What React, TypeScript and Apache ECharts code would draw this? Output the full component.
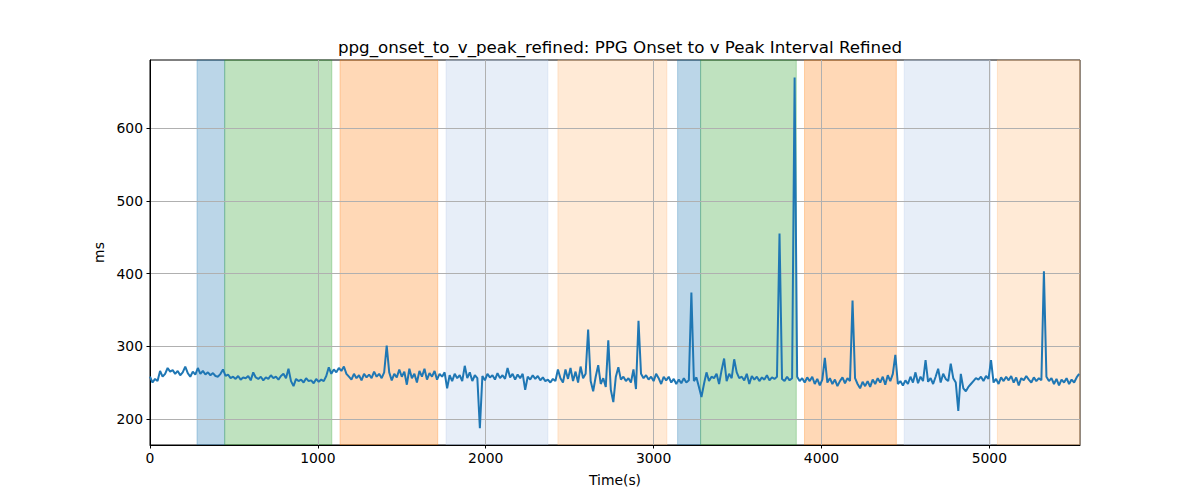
import React, { useEffect, useRef } from "react";
import * as echarts from "echarts";

const SAMPLE_STEP = 15; // seconds between samples

const intervalMs = [
  258, 250, 255, 252, 266, 258, 262, 270, 265, 267,
  262, 266, 260, 264, 272, 263, 258, 265, 261, 270,
  262, 266, 261, 264, 260, 263, 259, 258, 262, 268,
  259, 261, 256, 258, 255, 259, 254, 257, 256, 259,
  253, 264, 257, 255, 258, 253, 257, 255, 260, 256,
  258, 254, 259, 262, 256, 269, 252, 245, 255, 252,
  254, 250, 256, 252, 253, 249, 255, 251, 254, 252,
  259, 271, 262, 268, 264, 270, 266, 272, 262, 258,
  254, 262, 256, 260, 253, 262, 257, 261, 256, 265,
  258, 262, 256, 264, 301, 264, 253, 262, 257, 268,
  258, 265, 247, 269, 256, 262, 250, 266, 258, 269,
  254, 263, 258, 266, 254, 262, 258, 264, 242, 260,
  252, 262, 256, 260, 252, 273, 256, 264, 252, 260,
  256, 187, 259, 253, 262, 257, 260, 254, 263, 256,
  260, 255, 270, 257, 262, 254, 261, 256, 262, 240,
  258, 254, 260, 255, 259, 253, 257, 252, 254, 250,
  255, 252, 268, 256, 250, 268, 255, 270, 252, 265,
  250, 272, 256, 262, 323, 252, 238, 258, 274, 248,
  256, 244, 308, 240, 223, 258, 271, 254, 258, 252,
  256, 250, 268, 241, 335, 262, 256, 260, 254, 258,
  252, 262, 256, 248, 258, 253, 258, 250, 255, 248,
  254, 249, 256, 250, 253, 374, 252, 257, 244, 230,
  248, 264, 252, 258, 256, 262, 248, 267, 283, 252,
  262, 256, 282, 264, 256, 258, 253, 262, 248, 259,
  254, 258, 252, 257, 254, 260, 253, 257, 255, 258,
  455, 255, 252, 258, 253, 256, 670, 258, 252, 256,
  250, 257, 252, 258, 248, 255, 246, 254, 284, 250,
  256, 248, 254, 245, 252, 257, 249, 256, 252, 363,
  256, 248, 242, 251, 245, 252, 244, 254, 248, 256,
  250, 258, 247, 260, 252, 262, 288, 248, 252, 246,
  253, 248, 258, 250, 264, 249, 258, 252, 281, 251,
  256, 248, 258, 269, 250, 262, 255, 252, 276, 256,
  250, 211, 262, 242, 238, 244, 248, 252, 256, 254,
  258, 252, 259, 255, 281, 250, 255, 248, 257, 252,
  258, 253, 259, 250, 257, 246, 256, 253, 259, 254,
  250, 257, 252, 256, 253, 403, 258, 252, 256, 248,
  255, 246, 254, 250, 256, 248, 254, 250, 257, 262,
];

const xTicks = [0, 1000, 2000, 3000, 4000, 5000];
const yTicks = [200, 300, 400, 500, 600];
const X_MAX = 5540;
const Y_MIN = 164;
const Y_MAX = 694;

const bandStarts = [280, 445, 1132, 1764, 2430, 3143, 3280, 3899, 4493, 5048];
const bandEnds = [445, 1083, 1714, 2370, 3079, 3280, 3850, 4446, 5006, 5540];
const bandKinds = [
  "blue", "green", "orange", "lightblue", "lightorange",
  "blue", "green", "orange", "lightblue", "lightorange",
];

const bandPalette: Record<string, string> = {
  blue: "rgba(31,119,180,0.3)",
  green: "rgba(44,160,44,0.3)",
  orange: "rgba(255,127,14,0.3)",
  lightblue: "rgba(174,199,232,0.3)",
  lightorange: "rgba(255,187,120,0.3)",
};

const FONT = "DejaVu Sans";

export default function App() {
  const ref = useRef<HTMLDivElement>(null);

  useEffect(() => {
    if (!ref.current) return;
    const chart = echarts.init(ref.current, undefined, { renderer: "svg" });

    const lineData = intervalMs.map((v, i) => [i * SAMPLE_STEP, v]);
    const bands = bandStarts.map((s, i) => [
      {
        xAxis: s,
        itemStyle: {
          color: bandPalette[bandKinds[i]],
          borderColor: bandPalette[bandKinds[i]],
          borderWidth: 1,
        },
      },
      { xAxis: bandEnds[i] },
    ]);

    const labelStyle = {
      fontFamily: FONT,
      fontSize: 13.9,
      color: "#000",
    };

    chart.setOption({
      animation: false,
      backgroundColor: "#ffffff",
      title: {
        text: "ppg_onset_to_v_peak_refined: PPG Onset to v Peak Interval Refined",
        left: 615,
        top: 33,
        textAlign: "center",
        textStyle: {
          fontFamily: FONT,
          fontSize: 16.7,
          fontWeight: "normal",
          color: "#000000",
        },
      },
      grid: {
        left: 150,
        right: 120,
        top: 60,
        bottom: 55,
        show: true,
        borderColor: "#000000",
        borderWidth: 1,
        backgroundColor: "transparent",
      },
      xAxis: {
        type: "value",
        z: 2,
        min: 0,
        max: X_MAX,
        interval: 1000,
        name: "Time(s)",
        nameLocation: "middle",
        nameGap: 28,
        nameTextStyle: labelStyle,
        axisLine: { show: true, onZero: false, lineStyle: { color: "#000", width: 1 } },
        axisTick: {
          show: true,
          length: 3.5,
          customValues: xTicks,
          lineStyle: { color: "#000" },
        },
        axisLabel: {
          customValues: xTicks,
          margin: 6,
          formatter: (v: number) => String(v),
          ...labelStyle,
        },
        splitLine: { show: true, lineStyle: { color: "#b0b0b0", width: 1 } },
      },
      yAxis: {
        type: "value",
        z: 2,
        min: Y_MIN,
        max: Y_MAX,
        splitNumber: 5,
        name: "ms",
        nameLocation: "middle",
        nameGap: 42,
        nameTextStyle: labelStyle,
        axisLine: { show: true, onZero: false, lineStyle: { color: "#000", width: 1 } },
        axisTick: {
          show: true,
          length: 3.5,
          customValues: yTicks,
          lineStyle: { color: "#000" },
        },
        axisLabel: {
          customValues: yTicks,
          margin: 7,
          formatter: (v: number) => String(v),
          ...labelStyle,
        },
        splitLine: { show: true, lineStyle: { color: "#b0b0b0", width: 1 } },
      },
      series: [
        {
          type: "line",
          data: [],
          z: 1,
          silent: true,
          markArea: { silent: true, data: bands },
        },
        {
          type: "line",
          data: lineData,
          z: 3,
          showSymbol: false,
          symbol: "none",
          lineStyle: { color: "#1f77b4", width: 2 },
          itemStyle: { color: "#1f77b4" },
        },
      ],
    });

    return () => chart.dispose();
  }, []);

  return (
    <div
      ref={ref}
      style={{ position: "fixed", left: 0, top: 0, width: 1200, height: 500 }}
    />
  );
}
